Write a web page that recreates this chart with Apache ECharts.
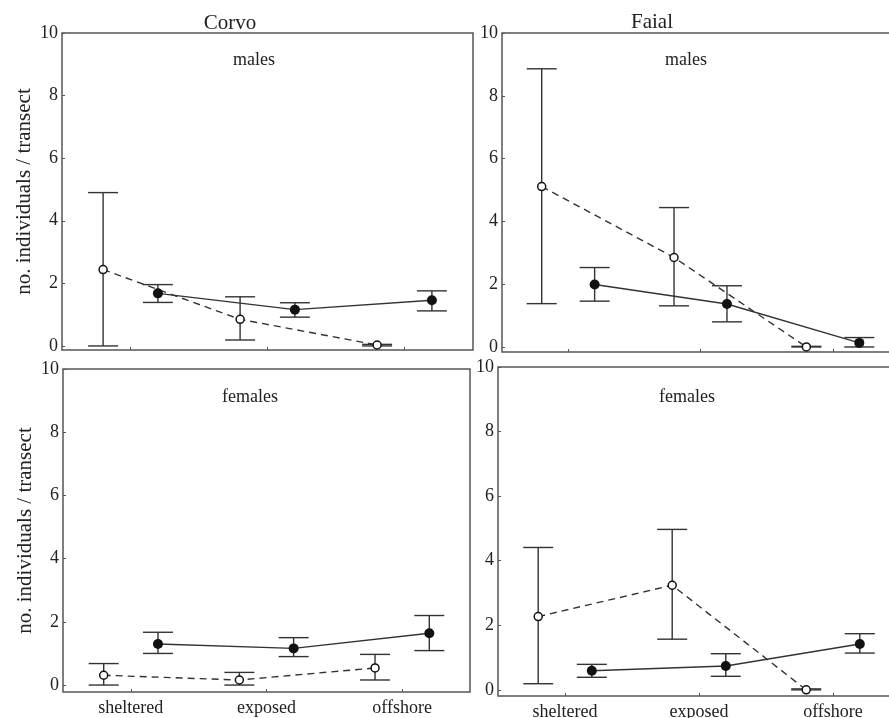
<!DOCTYPE html>
<html><head><meta charset="utf-8">
<script src="https://cdn.jsdelivr.net/npm/echarts@6/dist/echarts.min.js"></script>
<style>html,body{margin:0;padding:0;background:#fff}#c{width:889px;height:718px}</style>
</head><body><div id="c"></div>
<script>
// ---- data ----
const categories = ['sheltered', 'exposed', 'offshore'];
const yTicks = [0, 2, 4, 6, 8, 10];
const islands = ['Corvo', 'Faial'];
const sexes = ['males', 'females'];
const yName = 'no. individuals / transect';

// Corvo males
const corvoMalesOpen = [2.44, 0.85, 0.03];
const corvoMalesOpenLow = [0.0, 0.19, 0.0];
const corvoMalesOpenHigh = [4.90, 1.57, 0.05];
const corvoMalesFilled = [1.68, 1.16, 1.46];
const corvoMalesFilledLow = [1.39, 0.92, 1.12];
const corvoMalesFilledHigh = [1.96, 1.38, 1.76];
// Faial males
const faialMalesOpen = [5.11, 2.85, 0.0];
const faialMalesOpenLow = [1.38, 1.31, 0.0];
const faialMalesOpenHigh = [8.86, 4.44, 0.02];
const faialMalesFilled = [1.99, 1.37, 0.13];
const faialMalesFilledLow = [1.46, 0.80, 0.0];
const faialMalesFilledHigh = [2.53, 1.95, 0.30];
// Corvo females
const corvoFemalesOpen = [0.31, 0.16, 0.54];
const corvoFemalesOpenLow = [0.0, 0.0, 0.16];
const corvoFemalesOpenHigh = [0.68, 0.40, 0.97];
const corvoFemalesFilled = [1.30, 1.16, 1.64];
const corvoFemalesFilledLow = [1.00, 0.90, 1.09];
const corvoFemalesFilledHigh = [1.67, 1.50, 2.20];
// Faial females
const faialFemalesOpen = [2.27, 3.24, 0.0];
const faialFemalesOpenLow = [0.19, 1.57, 0.0];
const faialFemalesOpenHigh = [4.41, 4.97, 0.03];
const faialFemalesFilled = [0.59, 0.74, 1.42];
const faialFemalesFilledLow = [0.39, 0.42, 1.14];
const faialFemalesFilledHigh = [0.79, 1.12, 1.74];

// ---- layout / style ----
const FONT = '"Liberation Serif", "DejaVu Serif", serif';
const TXT = '#222';
const LINE = '#333';
const panels = [
  {grid:{left:62, top:33, width:411, height:317}, ymin:-0.13, island:0, sex:0, xlab:false, yname:true,
   open:[corvoMalesOpen, corvoMalesOpenLow, corvoMalesOpenHigh], filled:[corvoMalesFilled, corvoMalesFilledLow, corvoMalesFilledHigh],
   sexPos:[254, 60]},
  {grid:{left:502, top:33, width:397, height:319}, ymin:-0.16, island:1, sex:0, xlab:false, yname:false,
   open:[faialMalesOpen, faialMalesOpenLow, faialMalesOpenHigh], filled:[faialMalesFilled, faialMalesFilledLow, faialMalesFilledHigh],
   sexPos:[686, 60]},
  {grid:{left:63, top:369, width:407, height:323}, ymin:-0.22, island:0, sex:1, xlab:true, yname:true,
   open:[corvoFemalesOpen, corvoFemalesOpenLow, corvoFemalesOpenHigh], filled:[corvoFemalesFilled, corvoFemalesFilledLow, corvoFemalesFilledHigh],
   sexPos:[250, 397]},
  {grid:{left:498, top:367, width:402, height:329}, ymin:-0.19, island:1, sex:1, xlab:true, yname:false,
   open:[faialFemalesOpen, faialFemalesOpenLow, faialFemalesOpenHigh], filled:[faialFemalesFilled, faialFemalesFilledLow, faialFemalesFilledHigh],
   sexPos:[687, 397]}
];
const DODGE = 0.2;

function errRender(params, api) {
  const x = api.value(0), lo = api.value(1), hi = api.value(2);
  const pLo = api.coord([x, lo]), pHi = api.coord([x, hi]);
  const w = 15;
  const style = {stroke: LINE, lineWidth: 1.4, fill: null};
  return {type: 'group', children: [
    {type: 'line', shape: {x1: pLo[0], y1: pLo[1], x2: pHi[0], y2: pHi[1]}, style: style},
    {type: 'line', shape: {x1: pLo[0] - w, y1: pLo[1], x2: pLo[0] + w, y2: pLo[1]}, style: style},
    {type: 'line', shape: {x1: pHi[0] - w, y1: pHi[1], x2: pHi[0] + w, y2: pHi[1]}, style: style}
  ]};
}

const grids = [], xAxes = [], yAxes = [], series = [], titles = [];
panels.forEach((p, i) => {
  grids.push(Object.assign({show: true, borderColor: '#555', borderWidth: 1.5, backgroundColor: 'transparent',
    containLabel: false, outerBoundsMode: 'none'}, p.grid));
  xAxes.push({
    type: 'value', gridIndex: i, min: -0.5, max: 2.5, position: 'bottom',
    axisLine: {show: false, onZero: false}, splitLine: {show: false},
    axisTick: {show: true, inside: true, length: 3, customValues: [0, 1, 2], lineStyle: {color: '#555'}},
    axisLabel: {show: p.xlab, customValues: [0, 1, 2], margin: 7, formatter: v => categories[Math.round(v)],
      fontFamily: FONT, fontSize: 18, color: TXT}
  });
  yAxes.push({
    type: 'value', gridIndex: i, min: p.ymin, max: 10, position: 'left',
    axisLine: {show: false, onZero: false}, splitLine: {show: false},
    axisTick: {show: true, inside: true, length: 3, customValues: yTicks, lineStyle: {color: '#555'}},
    axisLabel: {customValues: yTicks, margin: 4, fontFamily: FONT, fontSize: 18, color: TXT},
    name: p.yname ? yName : '', nameLocation: 'middle', nameGap: 27, nameRotate: 90,
    nameTextStyle: {fontFamily: FONT, fontSize: 21, color: TXT}
  });
  const groups = [
    {d: p.open, off: -DODGE, dashed: true},
    {d: p.filled, off: DODGE, dashed: false}
  ];
  groups.forEach(g => {
    const vals = g.d[0], lo = g.d[1], hi = g.d[2];
    series.push({
      type: 'custom', xAxisIndex: i, yAxisIndex: i, z: 2, silent: true,
      renderItem: errRender, encode: {x: 0, y: [1, 2]},
      data: categories.map((c, k) => [k + g.off, lo[k], hi[k]])
    });
    series.push({
      type: 'line', xAxisIndex: i, yAxisIndex: i, z: 3, silent: true,
      data: categories.map((c, k) => [k + g.off, vals[k]]),
      symbol: 'circle', symbolSize: g.dashed ? 8 : 10,
      itemStyle: g.dashed ? {color: '#fff', borderColor: '#111', borderWidth: 1.5} : {color: '#111', borderColor: '#111', borderWidth: 0},
      lineStyle: {color: LINE, width: 1.4, type: g.dashed ? [7, 5] : 'solid'},
      animation: false
    });
  });
  titles.push({text: sexes[p.sex], left: p.sexPos[0], top: p.sexPos[1], textAlign: 'center', textVerticalAlign: 'middle', padding: 0,
    textStyle: {fontFamily: FONT, fontSize: 18, fontWeight: 'normal', color: TXT}});
});
titles.push({text: islands[0], left: 230, top: 23, textAlign: 'center', textVerticalAlign: 'middle', padding: 0,
  textStyle: {fontFamily: FONT, fontSize: 21, fontWeight: 'normal', color: TXT}});
titles.push({text: islands[1], left: 652, top: 22, textAlign: 'center', textVerticalAlign: 'middle', padding: 0,
  textStyle: {fontFamily: FONT, fontSize: 21, fontWeight: 'normal', color: TXT}});

const chart = echarts.init(document.getElementById('c'));
chart.setOption({
  animation: false,
  backgroundColor: '#fff',
  title: titles,
  grid: grids, xAxis: xAxes, yAxis: yAxes, series: series
});
</script></body></html>
